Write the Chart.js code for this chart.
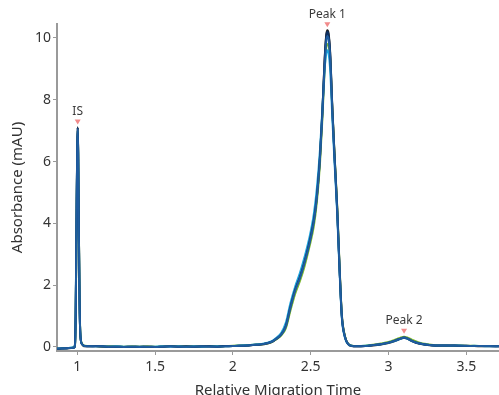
<!DOCTYPE html>
<html>
<head>
<meta charset="utf-8">
<script src="https://cdn.jsdelivr.net/npm/chart.js@4.4.1/dist/chart.umd.min.js"></script>
<style>
  html, body { margin: 0; padding: 0; background: #fff; overflow: hidden; }
</style>
</head>
<body>
<canvas id="electropherogram" width="499" height="400"></canvas>
<script>
// relative migration time (shared x values for every run)
const times = [
  0.87, 0.90, 0.93, 0.96, 0.98, 0.985, 0.99, 0.995, 1.0, 1.003,
  1.006, 1.01, 1.015, 1.02, 1.03, 1.05, 1.08, 1.12, 1.16, 1.2,
  1.25, 1.3, 1.35, 1.4, 1.45, 1.5, 1.55, 1.6, 1.65, 1.7,
  1.75, 1.8, 1.85, 1.9, 1.95, 2.0, 2.05, 2.1, 2.15, 2.2,
  2.25, 2.28, 2.31, 2.34, 2.37, 2.4, 2.43, 2.46, 2.49, 2.52,
  2.54, 2.56, 2.575, 2.59, 2.6, 2.607, 2.615, 2.625, 2.64, 2.655,
  2.67, 2.685, 2.7, 2.72, 2.74, 2.76, 2.8, 2.85, 2.9, 2.95,
  3.0, 3.05, 3.08, 3.1, 3.12, 3.15, 3.2, 3.25, 3.3, 3.35,
  3.4, 3.45, 3.5, 3.55, 3.6, 3.65, 3.71
];

// absorbance (mAU) of each overlaid run
const runBlue = [
  -0.05, -0.05, -0.04, -0.03, -0.02, 0.04, 1.0, 3.8, 6.4, 7.05,
  6.3, 4.0, 1.5, 0.4, 0.1, 0.03, 0.02, 0.02, 0.02, 0.01,
  0.01, 0.0, 0.01, 0.0, 0.01, 0.0, 0.01, 0.02, 0.01, 0.01,
  0.01, 0.02, 0.01, 0.01, 0.02, 0.03, 0.04, 0.05, 0.07, 0.1,
  0.17, 0.27, 0.4, 0.66, 1.28, 1.82, 2.22, 2.72, 3.3, 4.05,
  4.85, 6.1, 7.5, 9.15, 9.9, 10.05, 9.95, 9.4, 7.55, 5.95,
  4.45, 2.6, 1.0, 0.33, 0.1, 0.04, 0.02, 0.03, 0.06, 0.09,
  0.14, 0.22, 0.28, 0.31, 0.28, 0.2, 0.11, 0.07, 0.05, 0.05,
  0.05, 0.04, 0.04, 0.03, 0.03, 0.03, 0.02
];
const runNavy = [
  -0.06, -0.05, -0.04, -0.03, -0.02, 0.05, 1.1, 3.9, 6.5, 7.1,
  6.3, 4.0, 1.5, 0.4, 0.1, 0.03, 0.02, 0.03, 0.02, 0.01,
  0.01, 0.0, 0.01, 0.0, 0.01, 0.0, 0.01, 0.02, 0.01, 0.02,
  0.01, 0.02, 0.02, 0.01, 0.03, 0.03, 0.04, 0.05, 0.07, 0.1,
  0.17, 0.27, 0.4, 0.68, 1.3, 1.85, 2.25, 2.75, 3.35, 4.1,
  4.9, 6.2, 7.6, 9.3, 10.05, 10.2, 10.1, 9.5, 7.6, 6.0,
  4.5, 2.6, 1.0, 0.33, 0.1, 0.04, 0.02, 0.03, 0.06, 0.09,
  0.14, 0.22, 0.28, 0.31, 0.28, 0.2, 0.11, 0.07, 0.05, 0.05,
  0.05, 0.04, 0.04, 0.03, 0.03, 0.03, 0.02
];
const runCyan = [
  -0.05, -0.04, -0.04, -0.02, -0.02, 0.06, 1.2, 3.9, 6.4, 7.0,
  6.2, 3.9, 1.4, 0.4, 0.1, 0.03, 0.03, 0.02, 0.02, 0.01,
  0.02, 0.01, 0.01, 0.01, 0.0, 0.01, 0.02, 0.01, 0.02, 0.01,
  0.02, 0.01, 0.02, 0.02, 0.02, 0.03, 0.05, 0.06, 0.08, 0.11,
  0.19, 0.3, 0.45, 0.78, 1.42, 1.95, 2.38, 2.9, 3.5, 4.3,
  5.15, 6.4, 7.7, 9.0, 9.5, 9.6, 9.5, 9.0, 7.3, 5.8,
  4.35, 2.5, 0.95, 0.3, 0.09, 0.04, 0.03, 0.04, 0.06, 0.09,
  0.14, 0.21, 0.27, 0.3, 0.27, 0.19, 0.11, 0.07, 0.05, 0.05,
  0.04, 0.05, 0.03, 0.04, 0.03, 0.02, 0.03
];
const runGreen = [
  -0.05, -0.04, -0.03, -0.03, -0.01, 0.03, 0.9, 3.6, 6.3, 7.0,
  6.3, 4.1, 1.6, 0.45, 0.12, 0.04, 0.03, 0.03, 0.02, 0.02,
  0.02, 0.01, 0.02, 0.01, 0.02, 0.01, 0.02, 0.03, 0.02, 0.02,
  0.02, 0.03, 0.02, 0.02, 0.03, 0.04, 0.05, 0.06, 0.08, 0.1,
  0.16, 0.25, 0.37, 0.6, 1.18, 1.72, 2.12, 2.6, 3.2, 3.9,
  4.7, 5.95, 7.35, 9.0, 9.7, 9.8, 9.75, 9.3, 7.6, 6.05,
  4.6, 2.7, 1.05, 0.36, 0.11, 0.05, 0.03, 0.04, 0.07, 0.11,
  0.16, 0.25, 0.31, 0.33, 0.31, 0.24, 0.14, 0.09, 0.06, 0.05,
  0.05, 0.05, 0.04, 0.04, 0.03, 0.03, 0.03
];
const runBlack = [
  -0.06, -0.05, -0.05, -0.03, -0.02, 0.04, 1.0, 3.8, 6.5, 7.1,
  6.4, 4.1, 1.5, 0.4, 0.1, 0.02, 0.02, 0.02, 0.01, 0.01,
  0.0, 0.0, 0.0, 0.01, 0.0, 0.0, 0.01, 0.03, 0.01, 0.01,
  0.01, 0.01, 0.02, 0.01, 0.02, 0.03, 0.04, 0.05, 0.07, 0.09,
  0.16, 0.26, 0.39, 0.65, 1.25, 1.8, 2.2, 2.7, 3.3, 4.05,
  4.85, 6.15, 7.6, 9.35, 10.1, 10.25, 10.15, 9.55, 7.65, 6.05,
  4.55, 2.65, 1.05, 0.34, 0.1, 0.03, 0.02, 0.03, 0.05, 0.08,
  0.13, 0.21, 0.27, 0.3, 0.27, 0.19, 0.1, 0.06, 0.04, 0.04,
  0.04, 0.04, 0.03, 0.03, 0.02, 0.02, 0.02
];

// peak annotations
const peakLabels = ['IS', 'Peak 1', 'Peak 2'];
const peakTimes = [1.003, 2.607, 3.1];
const peakHeights = [7.1, 10.25, 0.33];

const xTicks = [1, 1.5, 2, 2.5, 3, 3.5];
const yTicks = [0, 2, 4, 6, 8, 10];

const FONT = "'Noto Sans', 'Open Sans', sans-serif";

function series(values, color) {
    return {
        data: times.map((t, i) => ({ x: t, y: values[i] })),
        borderColor: color,
        borderWidth: 2,
        pointRadius: 0,
        cubicInterpolationMode: 'monotone',
        fill: false
    };
}

const peakMarkers = {
    id: 'peakMarkers',
    afterDatasetsDraw(chart) {
        const c = chart.ctx;
        const xs = chart.scales.x;
        const ys = chart.scales.y;
        c.save();
        peakLabels.forEach((label, i) => {
            const px = xs.getPixelForValue(peakTimes[i]);
            const py = ys.getPixelForValue(peakHeights[i]);
            c.fillStyle = '#f28b8b';
            c.beginPath();
            c.moveTo(px - 3, py - 8);
            c.lineTo(px + 3, py - 8);
            c.lineTo(px, py - 3);
            c.closePath();
            c.fill();
            c.fillStyle = '#3a3a3a';
            c.font = '12px ' + FONT;
            c.textAlign = 'center';
            c.textBaseline = 'middle';
            c.fillText(label, px, py - 16);
        });
        c.restore();
    }
};

const ctx = document.getElementById('electropherogram');

const chart = new Chart(ctx, {
    type: 'line',
    data: {
        datasets: [
            series(runBlue, '#1f5c9f'),
            series(runNavy, '#0e2f5f'),
            series(runCyan, '#1da5de'),
            series(runGreen, '#7cb82f'),
            series(runBlack, '#1a1a1a')
        ]
    },
    options: {
        responsive: false,
        animation: false,
        layout: { padding: { top: 24, right: 0, left: 0, bottom: 0 } },
        plugins: {
            legend: { display: false },
            tooltip: { enabled: false }
        },
        scales: {
            x: {
                type: 'linear',
                min: 0.87,
                max: 3.71,
                afterBuildTicks: (s) => { s.ticks = xTicks.map(v => ({ value: v })); },
                afterFit: (s) => { s.height = 49; },
                grid: { display: true, drawOnChartArea: false, tickLength: 4, color: '#999' },
                border: { color: '#9a9a9a', width: 2 },
                ticks: {
                    color: '#333',
                    padding: 4,
                    font: { family: FONT, size: 14 },
                    callback: (v) => String(v)
                },
                title: {
                    display: true,
                    text: 'Relative Migration Time',
                    color: '#333',
                    padding: { top: 0, bottom: 0 },
                    font: { family: FONT, size: 15 }
                }
            },
            y: {
                min: -0.13,
                max: 10.45,
                afterBuildTicks: (s) => { s.ticks = yTicks.map(v => ({ value: v })); },
                afterFit: (s) => { s.width = 57; },
                grid: { display: true, drawOnChartArea: false, tickLength: 4, color: '#999' },
                border: { color: '#9a9a9a', width: 2 },
                ticks: {
                    color: '#333',
                    padding: 2,
                    font: { family: FONT, size: 14 },
                    callback: (v) => String(v)
                },
                title: {
                    display: true,
                    text: 'Absorbance (mAU)',
                    color: '#333',
                    padding: { top: 9, bottom: 0 },
                    font: { family: FONT, size: 15 }
                }
            }
        }
    },
    plugins: [peakMarkers]
});
</script>
</body>
</html>
